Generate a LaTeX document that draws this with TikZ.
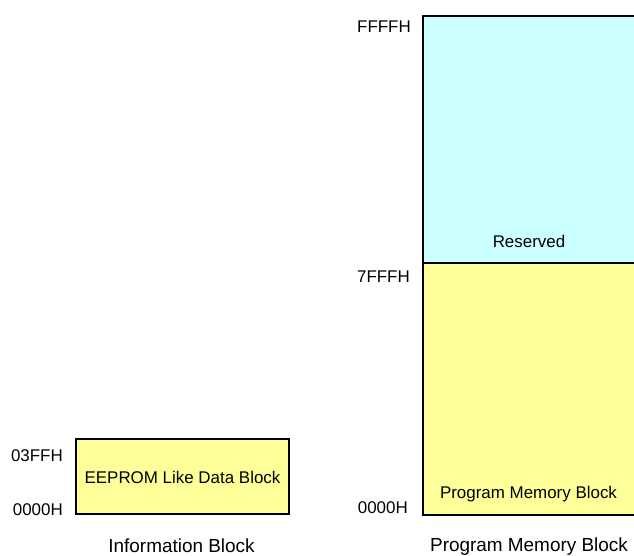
\documentclass[tikz,border=0pt]{standalone}
\usepackage{fontspec}
\setmainfont{Liberation Sans}
\definecolor{resvfill}{HTML}{CCFFFF}
\definecolor{blockfill}{HTML}{FFFF99}

\begin{document}
\begin{tikzpicture}[x=1bp, y=-1bp,
    addr/.style={anchor=base east, inner sep=0pt, font=\fontsize{17}{19}\selectfont},
    inlabel/.style={anchor=base, inner sep=0pt, font=\fontsize{17}{19}\selectfont},
    blocktitle/.style={anchor=base, inner sep=0pt, font=\fontsize{19}{21}\selectfont},
    memblock/.style={draw=black, line width=1.6bp}]
    \useasboundingbox (0,0) rectangle (634,556);
    \clip (0,0) rectangle (634,556);
    % information block
    \filldraw [memblock, fill=blockfill] (76,439) rectangle (289,514);
    \node [inlabel] (eeprom) at (182.5,483) {EEPROM Like Data Block};
    \node [addr] (infotop) at (63,461) {03FFH};
    \node [addr] (infobot) at (63,515) {0000H};
    \node [blocktitle] (infotitle) at (181.5,552) {Information Block};
    % program memory block
    \filldraw [memblock, fill=resvfill] (423,16) rectangle (634.5,263);
    \filldraw [memblock, fill=blockfill] (423,263) rectangle (634.5,515);
    \node [inlabel] (resv) at (529,248) {Reserved};
    \node [inlabel] (progin) at (528.5,498) {Program Memory Block};
    \node [addr] (progtop) at (411,33) {FFFFH};
    \node [addr] (progmid) at (410,282) {7FFFH};
    \node [addr] (progbot) at (408,513) {0000H};
    \node [blocktitle] (progtitle) at (529,551) {Program Memory Block};
\end{tikzpicture}
\end{document}
